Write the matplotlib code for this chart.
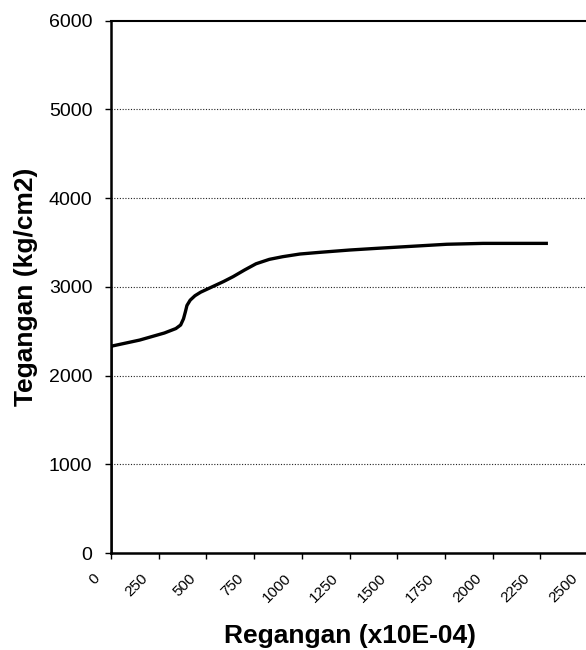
import matplotlib
matplotlib.use('Agg')
import matplotlib.pyplot as plt
import matplotlib.transforms as mtransforms

plt.rcParams['font.family'] = ['Liberation Sans', 'DejaVu Sans']

# regangan (x10E-04) dan tegangan (kg/cm2)
regangan = [0, 0, 10, 150, 280, 340, 365, 380, 390, 398, 415, 440, 470, 520,
            590, 640, 700, 760, 830, 900, 990, 1100, 1250, 1400, 1600, 1760,
            1950, 2100, 2290]
tegangan = [0, 2330, 2335, 2400, 2480, 2530, 2570, 2640, 2720, 2790, 2850,
            2900, 2940, 2990, 3060, 3115, 3190, 3260, 3310, 3340, 3370, 3390,
            3415, 3435, 3460, 3480, 3490, 3490, 3490]

x_ticks = list(range(0, 2501, 250))
y_ticks = list(range(0, 6001, 1000))

fig = plt.figure(figsize=(5.86, 6.5), dpi=100)
ax = fig.add_axes([111/586, 1 - 553/650, 477/586, 532.3/650])

ax.plot(regangan, tegangan, color='black', linewidth=2.4, solid_capstyle='butt', zorder=3)

ax.set_xlim(0, 2500)
ax.set_ylim(0, 6000)
ax.set_xticks(x_ticks)
ax.set_xticklabels([str(t) for t in x_ticks], rotation=45, ha='right', fontsize=11)
ax.set_yticks(y_ticks)
ax.set_yticklabels([str(t) for t in y_ticks], fontsize=14)
ax.tick_params(axis='y', length=4.5, width=1, pad=9)
ax.tick_params(axis='x', length=4, width=1, pad=4)

# geser label sumbu x sedikit ke kiri bawah
geser = mtransforms.ScaledTranslation(-0.08, -0.07, fig.dpi_scale_trans)
for lbl in ax.get_xticklabels():
    lbl.set_transform(lbl.get_transform() + geser)

# garis bantu horizontal
for t in y_ticks[1:-1]:
    ax.axhline(t, color='#222222', linestyle=(0, (1, 1.5)), linewidth=0.8, zorder=1)

for side in ['left', 'bottom']:
    ax.spines[side].set_linewidth(1.8)
ax.spines['top'].set_linewidth(1.5)
ax.spines['right'].set_visible(False)

ax.set_xlabel('Regangan (x10E-04)', fontsize=19, fontweight='bold', va='center')
ax.set_ylabel('Tegangan (kg/cm2)', fontsize=19, fontweight='bold', va='center')
ax.xaxis.set_label_coords(0.5, -0.155)
ax.yaxis.set_label_coords(-0.178, 0.5)

fig.savefig('out.png', dpi=100)
